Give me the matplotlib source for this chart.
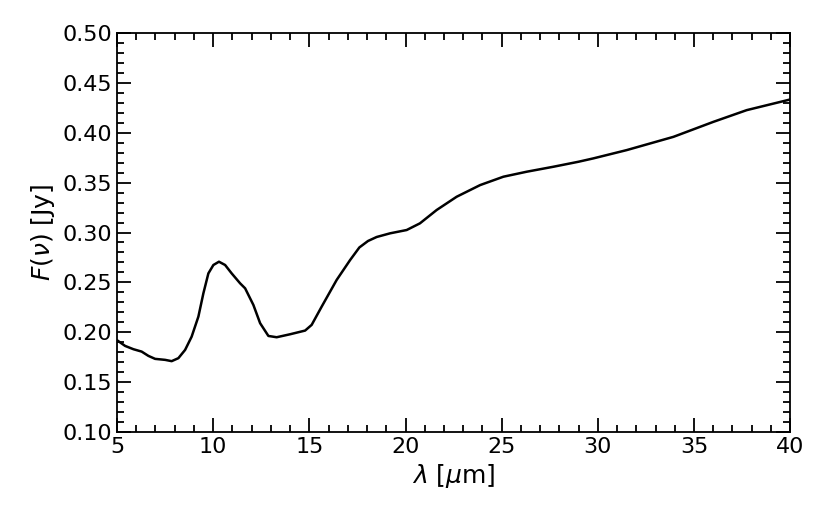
import numpy as np
import matplotlib
matplotlib.use('Agg')
import matplotlib.pyplot as plt
from matplotlib.ticker import MultipleLocator, FormatStrFormatter

# spectrum
wave = [5.03, 5.42, 5.85, 6.28, 6.63, 6.98, 7.5, 7.84, 8.19, 8.54, 8.88, 9.23, 9.49,
        9.75, 10.01, 10.3, 10.62, 10.96, 11.4, 11.66, 12.09, 12.44, 12.87, 13.3,
        14.0, 14.78, 15.12, 15.64, 16.42, 17.12, 17.6, 18.05, 18.5, 19.2, 20.06,
        20.75, 21.62, 22.66, 23.88, 25.09, 26.3, 27.69, 28.99, 29.77, 31.5, 33.93,
        36.0, 37.74, 40.0]
flux = [0.1915, 0.1862, 0.1829, 0.1805, 0.1762, 0.1732, 0.1722, 0.1709, 0.1739,
        0.1822, 0.1955, 0.2156, 0.239, 0.259, 0.2674, 0.2707, 0.2674, 0.259, 0.249,
        0.244, 0.2273, 0.209, 0.1962, 0.1949, 0.1979, 0.2016, 0.2073, 0.2256, 0.2524,
        0.2724, 0.285, 0.2915, 0.2955, 0.2992, 0.3025, 0.3092, 0.3226, 0.3359, 0.3476,
        0.356, 0.361, 0.366, 0.371, 0.3744, 0.3827, 0.396, 0.411, 0.4228, 0.4335]

fig = plt.figure(figsize=(8.3, 5.19), dpi=100)
ax = fig.add_axes([0.141, 0.168, 0.811, 0.768])
ax.plot(wave, flux, color='k', lw=1.8)

ax.set_xlim(5, 40)
ax.set_ylim(0.10, 0.50)
ax.xaxis.set_major_locator(MultipleLocator(5))
ax.xaxis.set_minor_locator(MultipleLocator(1))
ax.yaxis.set_major_locator(MultipleLocator(0.05))
ax.yaxis.set_minor_locator(MultipleLocator(0.01))
ax.yaxis.set_major_formatter(FormatStrFormatter('%.2f'))
ax.tick_params(which='both', direction='in', top=True, right=True, width=1.3, labelsize=16)
ax.tick_params(which='major', length=10)
ax.tick_params(which='minor', length=5)
for s in ax.spines.values():
    s.set_linewidth(1.3)

ax.set_xlabel(r'$\lambda$ [$\mu$m]', fontsize=18)
ax.set_ylabel(r'$F(\nu)$ [Jy]', fontsize=18)

fig.savefig('out.png', dpi=100)
